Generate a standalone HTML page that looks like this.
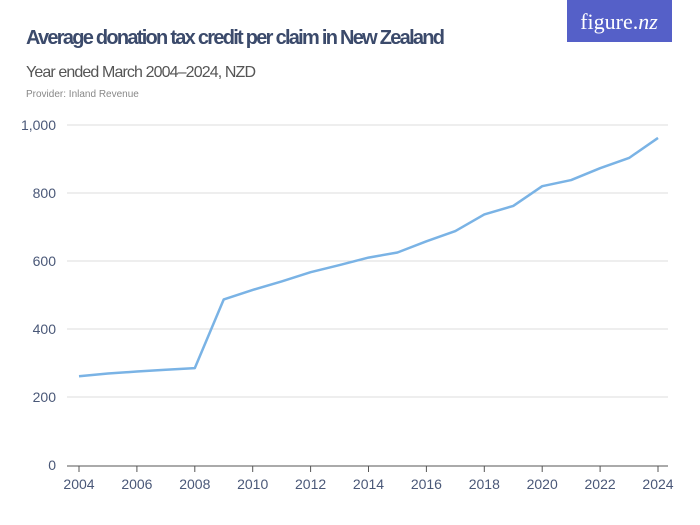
<!DOCTYPE html>
<html><head><meta charset="utf-8"><style>
body{margin:0;width:700px;height:525px;background:#fff;overflow:hidden;font-family:"Liberation Sans Narrow","Liberation Sans",sans-serif}
svg{position:absolute;left:0;top:0}
</style></head><body>
<svg width="700" height="525">
<text x="26" y="44" font-size="20" font-weight="bold" fill="#3b4a6b" textLength="419">Average donation tax credit per claim in New Zealand</text>
<text x="26" y="77" font-size="16" fill="#555" textLength="230">Year ended March 2004–2024, NZD</text>
<text x="26" y="97" font-size="10" fill="#888">Provider: Inland Revenue</text>
<rect x="567" y="0" width="105" height="42" fill="#5560c8"/>
<text x="619" y="29" font-size="22" fill="#fff" text-anchor="middle" font-family="Liberation Serif,serif">figure.<tspan font-style="italic">nz</tspan></text>
<g id="grid"></g><g id="axis"></g><g id="series"></g>
</svg>
<script>
const years=[2004,2005,2006,2007,2008,2009,2010,2011,2012,2013,2014,2015,2016,2017,2018,2019,2020,2021,2022,2023,2024];
const values=[261,269,275,280,285,487,515,540,567,588,610,625,658,688,737,762,820,838,873,903,962];
const yTicks=[0,200,400,600,800,1000];
const yTickLabels=["0","200","400","600","800","1,000"];
const xTicks=[2004,2006,2008,2010,2012,2014,2016,2018,2020,2022,2024];
const NS="http://www.w3.org/2000/svg";
const x=v=>79+(v-2004)*(658-79)/20;
const y=v=>465-v*0.34;
function mk(t,a,p){const e=document.createElementNS(NS,t);for(const k in a)e.setAttribute(k,a[k]);p.appendChild(e);return e;}
const grid=document.getElementById('grid'),axis=document.getElementById('axis'),series=document.getElementById('series');
yTicks.forEach((t,i)=>{
 if(t>0){const l=mk('line',{x1:67,x2:668,y1:y(t),y2:y(t),stroke:'#ddd','stroke-width':1},grid);
 
 }
 const tx=mk('text',{x:56,y:y(t)+5,'font-size':14,fill:'#4a5878','text-anchor':'end'},axis);
 tx.textContent=yTickLabels[i];
 
 
});
const base=mk('line',{x1:67,x2:668,y1:466,y2:466,stroke:'#555','stroke-width':1},axis);


xTicks.forEach(t=>{
 const tk=mk('line',{x1:x(t),x2:x(t),y1:466,y2:472,stroke:'#555'},axis);
 
 
 const tx=mk('text',{x:x(t),y:489,'font-size':14,fill:'#4a5878','text-anchor':'middle'},axis);
 tx.textContent=t;
 
 
});
const pl=mk('polyline',{points:years.map((yr,i)=>x(yr)+','+y(values[i])).join(' '),fill:'none',stroke:'#7ab3e5','stroke-width':2.5,'stroke-linejoin':'round'},series);


</script>
</body></html>
